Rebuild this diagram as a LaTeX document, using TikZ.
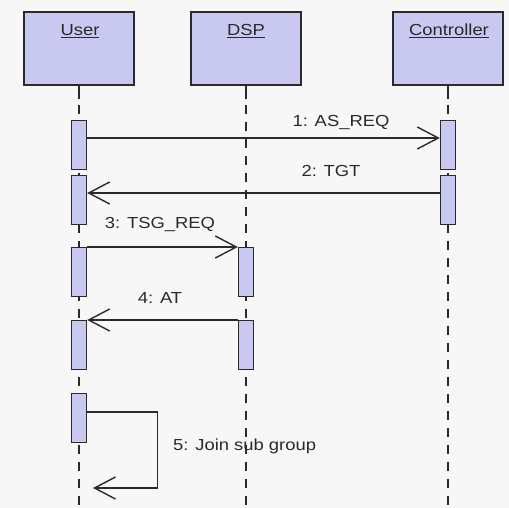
\documentclass[tikz,border=0pt]{standalone}
\usepackage{fontspec}
\setmainfont{Liberation Sans}[FakeStretch=1.15]
\usetikzlibrary{arrows.meta}
\definecolor{bg}{HTML}{F7F7F7}
\definecolor{boxfill}{HTML}{C8C8F0}
\definecolor{ink}{HTML}{2A2A2A}
\tikzset{
  x=1pt,y=1pt,
  head/.style={draw=ink, line width=1.8pt, fill=boxfill, minimum width=110pt, minimum height=73pt, inner sep=0pt, anchor=north},
  bar/.style={draw=ink, line width=1.4pt, fill=boxfill, minimum width=15pt, minimum height=49pt, inner sep=0pt, anchor=north},
  life/.style={draw=ink, line width=1.4pt},
  lifedash/.style={draw=ink, line width=1.4pt, dash pattern=on 9pt off 8pt},
  msg/.style={draw=ink, line width=1.4pt, -{Straight Barb[length=21pt,width=22pt,line width=1.4pt]}},
  lbl/.style={font=\fontsize{16}{18}\selectfont, text=ink, inner sep=0pt, anchor=base},
}
\begin{document}
\begin{tikzpicture}
\fill[bg] (0,0) rectangle (509,-508);
\useasboundingbox (0,0) rectangle (509,-508);

% heads
\node[head] (user) at (79,-11) {};
\node[head] (dsp) at (246,-11) {};
\node[head] (ctrl) at (448,-11) {};
\node[lbl] (usert) at (80,-36) {\underline{User}};
\node[lbl] (dspt) at (246,-36) {\underline{DSP}};
\node[lbl] (ctrlt) at (449,-36) {\underline{Controller}};

% lifelines
\coordinate (uend) at (79,-508);
\coordinate (dend) at (246,-508);
\coordinate (cend) at (448,-508);
\draw[life] (user.south) -- ++(0,-13) coordinate (us);
\draw[life] (dsp.south) -- ++(0,-13) coordinate (ds);
\draw[life] (ctrl.south) -- ++(0,-13) coordinate (cs);
\draw[lifedash] ([yshift=-6pt]us) -- (uend);
\draw[lifedash] ([yshift=-6pt]ds) -- (dend);
\draw[lifedash] ([yshift=-6pt]cs) -- (cend);

% activation bars
\node[bar] (ub1) at (79,-120) {};
\node[bar] (ub2) at (79,-175) {};
\node[bar] (ub3) at (79,-247) {};
\node[bar] (ub4) at (79,-320) {};
\node[bar] (ub5) at (79,-393) {};
\node[bar] (cb1) at (448,-120) {};
\node[bar] (cb2) at (448,-175) {};
\node[bar] (db1) at (246,-247) {};
\node[bar] (db2) at (246,-320) {};

% messages
\draw[msg] ([yshift=-18pt]ub1.north east) -- ([yshift=-18pt]cb1.north west);
\node[lbl] (l1) at (341,-127) {1: AS\_REQ};
\draw[msg] ([yshift=-18pt]cb2.north west) -- ([yshift=-18pt]ub2.north east);
\node[lbl] (l2) at (331,-177) {2: TGT};
\draw[msg] (ub3.north east) -- (db1.north west);
\node[lbl] (l3) at (160,-229) {3: TSG\_REQ};
\draw[msg] (db2.north west) -- (ub4.north east);
\node[lbl] (l4) at (160,-303) {4: AT};
\coordinate (self) at (93,-488);
\draw[msg] ([yshift=-19pt]ub5.north east) -- ++(70,0) |- (self);
\node[lbl, anchor=base west] (l5) at (173,-450) {5: Join sub group};
\end{tikzpicture}
\end{document}
